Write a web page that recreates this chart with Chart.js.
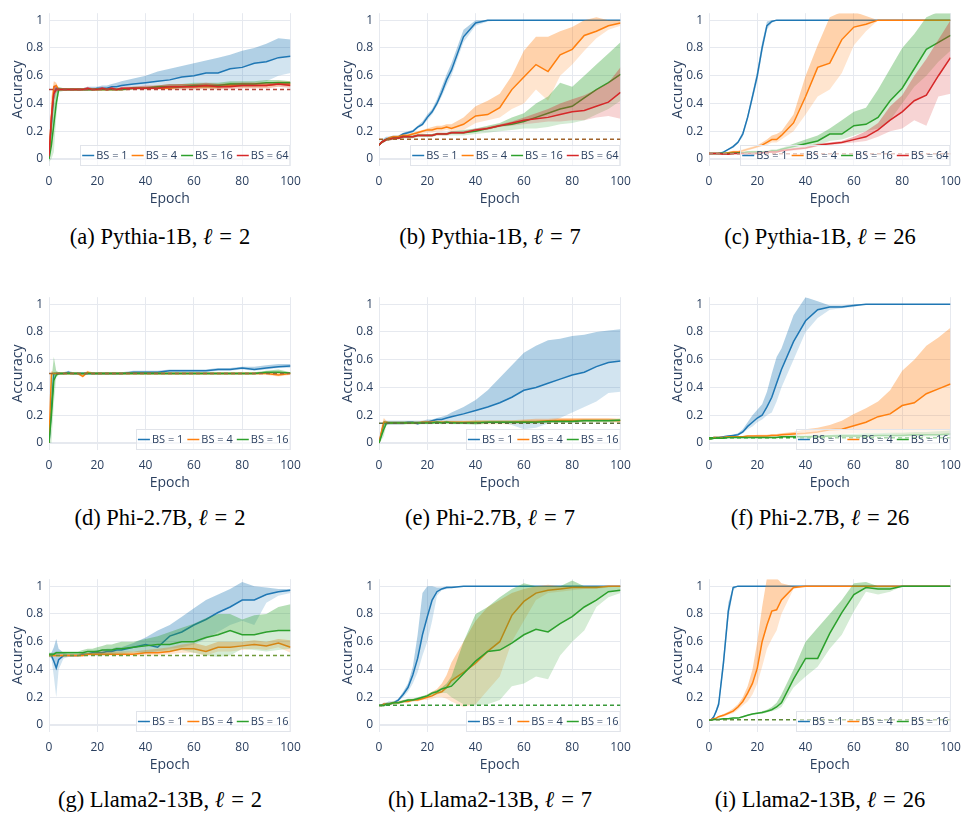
<!DOCTYPE html>
<html>
<head>
<meta charset="utf-8">
<script src="https://cdn.jsdelivr.net/npm/chart.js@4.4.1/dist/chart.umd.min.js"></script>
<style>
  body { margin: 0; background: #fff; width: 963px; height: 814px; position: relative; overflow: hidden; }
  .panel { position: absolute; }
  .caption { position: absolute; width: 320px; text-align: center; font-family: "Liberation Serif", "Times New Roman", serif; font-size: 22.5px; line-height: 26px; color: #000; white-space: nowrap; }
  .caption .eq { margin: 0 7px; }
</style>
</head>
<body>
<script>
// epochs shared by every series
const epochs = [0,1,2,3,4,6,8,10,12,14,16,18,20,22,24,26,28,30,35,40,45,50,55,60,65,70,75,80,85,90,95,100];
const xTicks = [0,20,40,60,80,100];
const yTicks = [0,0.2,0.4,0.6,0.8,1];
const bsLabels = ['BS = 1','BS = 4','BS = 16','BS = 64'];
const seriesColors = ['#1f77b4','#ff7f0e','#2ca02c','#d62728'];
const captionNames = ['(a) Pythia-1B','(b) Pythia-1B','(c) Pythia-1B','(d) Phi-2.7B','(e) Phi-2.7B','(f) Phi-2.7B',
  '(g) Llama2-13B','(h) Llama2-13B','(i) Llama2-13B'];
const captionEll = [2,7,26,2,7,26,2,7,26];
const chance = [0.5,0.143,0.038,0.5,0.143,0.038,0.5,0.143,0.038];
const chanceColors = ['#b5443a','#a0622a','#c07a6a','#9a6a3a','#5f6f3f','#2ca02c','#6f9a3a','#3a9a3a','#5f8a3a'];

// (a) Pythia-1B, l = 2
const a_bs1    = [0.02,0.25,0.48,0.51,0.50,0.50,0.50,0.50,0.50,0.50,0.50,0.50,0.51,0.51,0.51,0.52,0.52,0.53,0.54,0.55,0.56,0.57,0.59,0.60,0.62,0.62,0.65,0.66,0.69,0.70,0.73,0.74];
const a_bs1_hi = [0.03,0.32,0.53,0.53,0.51,0.51,0.51,0.51,0.51,0.51,0.52,0.52,0.52,0.53,0.53,0.54,0.55,0.56,0.58,0.60,0.63,0.65,0.67,0.69,0.71,0.73,0.75,0.78,0.80,0.83,0.87,0.86];
const a_bs1_lo = [0.00,0.15,0.42,0.48,0.49,0.49,0.49,0.49,0.49,0.49,0.49,0.49,0.50,0.50,0.50,0.50,0.50,0.50,0.50,0.51,0.51,0.51,0.51,0.52,0.52,0.53,0.53,0.54,0.55,0.56,0.60,0.62];
const a_bs4    = [0.02,0.30,0.52,0.53,0.50,0.50,0.50,0.50,0.50,0.50,0.50,0.50,0.50,0.50,0.50,0.50,0.50,0.50,0.51,0.51,0.51,0.51,0.52,0.52,0.52,0.52,0.53,0.53,0.53,0.53,0.54,0.54];
const a_bs4_hi = [0.03,0.45,0.56,0.55,0.51,0.51,0.51,0.51,0.51,0.51,0.51,0.51,0.51,0.51,0.51,0.51,0.51,0.51,0.52,0.52,0.53,0.53,0.54,0.54,0.54,0.54,0.55,0.55,0.55,0.55,0.56,0.56];
const a_bs4_lo = [0.00,0.15,0.45,0.50,0.49,0.49,0.49,0.49,0.49,0.49,0.49,0.49,0.49,0.49,0.49,0.49,0.49,0.49,0.50,0.50,0.50,0.50,0.50,0.50,0.50,0.50,0.51,0.51,0.51,0.51,0.52,0.52];
const a_bs16    = [0.00,0.10,0.25,0.40,0.50,0.50,0.50,0.50,0.50,0.50,0.50,0.50,0.50,0.50,0.50,0.50,0.50,0.50,0.51,0.51,0.52,0.52,0.52,0.53,0.53,0.53,0.54,0.54,0.54,0.55,0.55,0.55];
const a_bs16_hi = [0.02,0.30,0.45,0.50,0.52,0.51,0.51,0.51,0.51,0.51,0.51,0.51,0.51,0.51,0.51,0.51,0.51,0.51,0.52,0.52,0.53,0.54,0.54,0.55,0.55,0.55,0.56,0.56,0.56,0.57,0.57,0.56];
const a_bs16_lo = [-0.02,0.00,0.05,0.30,0.48,0.49,0.49,0.49,0.49,0.49,0.49,0.49,0.49,0.49,0.49,0.49,0.49,0.49,0.50,0.50,0.51,0.51,0.51,0.51,0.51,0.51,0.52,0.52,0.52,0.53,0.53,0.53];
const a_bs64    = [0.02,0.30,0.47,0.50,0.50,0.50,0.50,0.50,0.50,0.50,0.51,0.50,0.50,0.51,0.50,0.51,0.50,0.51,0.51,0.51,0.51,0.52,0.52,0.52,0.53,0.52,0.52,0.53,0.53,0.53,0.54,0.53];
const a_bs64_hi = [0.03,0.40,0.53,0.52,0.51,0.51,0.51,0.51,0.51,0.51,0.52,0.51,0.51,0.52,0.51,0.52,0.51,0.52,0.52,0.53,0.53,0.54,0.54,0.54,0.55,0.54,0.54,0.55,0.55,0.55,0.55,0.55];
const a_bs64_lo = [0.00,0.20,0.42,0.48,0.49,0.49,0.49,0.49,0.49,0.49,0.50,0.49,0.49,0.50,0.49,0.50,0.49,0.50,0.50,0.50,0.50,0.50,0.50,0.50,0.51,0.50,0.50,0.51,0.51,0.51,0.52,0.51];

// (b) Pythia-1B, l = 7
const b_bs1    = [0.10,0.12,0.13,0.14,0.15,0.16,0.16,0.18,0.19,0.20,0.23,0.25,0.30,0.34,0.40,0.48,0.57,0.64,0.88,0.98,1.00,1.00,1.00,1.00,1.00,1.00,1.00,1.00,1.00,1.00,1.00,1.00];
const b_bs1_hi = [0.10,0.13,0.15,0.16,0.16,0.17,0.17,0.19,0.20,0.21,0.24,0.27,0.32,0.36,0.43,0.52,0.61,0.69,0.93,1.00,1.00,1.00,1.00,1.00,1.00,1.00,1.00,1.00,1.00,1.00,1.00,1.00];
const b_bs1_lo = [0.10,0.11,0.12,0.13,0.14,0.15,0.15,0.17,0.18,0.19,0.22,0.24,0.28,0.32,0.38,0.45,0.53,0.60,0.84,0.96,0.99,1.00,1.00,1.00,1.00,1.00,1.00,1.00,1.00,1.00,1.00,1.00];
const b_bs4    = [0.10,0.12,0.13,0.14,0.15,0.16,0.16,0.17,0.17,0.18,0.19,0.20,0.21,0.21,0.22,0.22,0.23,0.22,0.25,0.31,0.32,0.37,0.50,0.59,0.68,0.63,0.75,0.79,0.89,0.92,0.96,0.98];
const b_bs4_hi = [0.10,0.13,0.14,0.15,0.16,0.17,0.17,0.18,0.18,0.19,0.20,0.21,0.22,0.23,0.24,0.24,0.25,0.25,0.30,0.38,0.42,0.47,0.60,0.78,0.88,0.88,0.92,0.95,1.00,1.02,1.00,1.00];
const b_bs4_lo = [0.10,0.11,0.12,0.13,0.14,0.15,0.15,0.16,0.16,0.17,0.18,0.18,0.19,0.19,0.20,0.20,0.21,0.20,0.21,0.26,0.28,0.30,0.36,0.40,0.50,0.42,0.60,0.68,0.78,0.87,0.93,0.96];
const b_bs16    = [0.10,0.12,0.13,0.14,0.14,0.15,0.15,0.16,0.16,0.16,0.17,0.17,0.17,0.17,0.18,0.18,0.18,0.19,0.19,0.20,0.22,0.24,0.25,0.27,0.30,0.33,0.36,0.38,0.44,0.50,0.55,0.61];
const b_bs16_hi = [0.10,0.13,0.14,0.15,0.15,0.16,0.16,0.17,0.17,0.17,0.18,0.18,0.18,0.18,0.19,0.19,0.19,0.20,0.21,0.22,0.24,0.26,0.30,0.33,0.40,0.45,0.55,0.52,0.60,0.68,0.76,0.84];
const b_bs16_lo = [0.10,0.11,0.12,0.13,0.13,0.14,0.14,0.15,0.15,0.15,0.16,0.16,0.16,0.16,0.17,0.17,0.17,0.17,0.17,0.18,0.19,0.20,0.21,0.22,0.22,0.23,0.25,0.26,0.28,0.32,0.36,0.42];
const b_bs64    = [0.10,0.12,0.13,0.14,0.14,0.15,0.15,0.16,0.16,0.16,0.17,0.17,0.17,0.17,0.18,0.18,0.18,0.19,0.19,0.21,0.22,0.24,0.26,0.28,0.29,0.30,0.32,0.34,0.35,0.38,0.41,0.48];
const b_bs64_hi = [0.10,0.13,0.14,0.15,0.15,0.16,0.16,0.17,0.17,0.17,0.18,0.18,0.18,0.18,0.19,0.19,0.19,0.20,0.20,0.22,0.23,0.25,0.27,0.30,0.33,0.36,0.40,0.43,0.46,0.50,0.55,0.66];
const b_bs64_lo = [0.10,0.11,0.12,0.13,0.13,0.14,0.14,0.15,0.15,0.15,0.16,0.16,0.16,0.16,0.17,0.17,0.17,0.18,0.18,0.20,0.21,0.23,0.24,0.25,0.26,0.27,0.27,0.28,0.28,0.30,0.31,0.29];

// (c) Pythia-1B, l = 26
const c_bs1    = [0.04,0.04,0.04,0.04,0.04,0.05,0.07,0.09,0.12,0.18,0.30,0.45,0.60,0.80,0.96,0.99,1.00,1.00,1.00,1.00,1.00,1.00,1.00,1.00,1.00,1.00,1.00,1.00,1.00,1.00,1.00,1.00];
const c_bs1_hi = [0.04,0.04,0.04,0.04,0.045,0.055,0.075,0.10,0.13,0.20,0.32,0.48,0.64,0.84,0.99,1.00,1.00,1.00,1.00,1.00,1.00,1.00,1.00,1.00,1.00,1.00,1.00,1.00,1.00,1.00,1.00,1.00];
const c_bs1_lo = [0.04,0.04,0.04,0.04,0.035,0.045,0.065,0.08,0.11,0.16,0.28,0.42,0.56,0.76,0.93,0.98,1.00,1.00,1.00,1.00,1.00,1.00,1.00,1.00,1.00,1.00,1.00,1.00,1.00,1.00,1.00,1.00];
const c_bs4    = [0.04,0.04,0.04,0.04,0.04,0.04,0.045,0.05,0.05,0.06,0.07,0.08,0.09,0.10,0.12,0.14,0.14,0.17,0.26,0.45,0.66,0.69,0.86,0.95,0.97,1.00,1.00,1.00,1.00,1.00,1.00,1.00];
const c_bs4_hi = [0.04,0.04,0.04,0.04,0.045,0.045,0.05,0.06,0.06,0.07,0.08,0.09,0.10,0.12,0.14,0.17,0.18,0.20,0.32,0.60,0.82,1.02,1.06,1.06,1.03,1.00,1.00,1.00,1.00,1.00,1.00,1.00];
const c_bs4_lo = [0.04,0.04,0.04,0.04,0.035,0.035,0.04,0.04,0.04,0.05,0.06,0.07,0.08,0.09,0.10,0.12,0.12,0.14,0.20,0.32,0.45,0.50,0.62,0.82,0.92,1.00,1.00,1.00,1.00,1.00,1.00,1.00];
const c_bs16    = [0.04,0.04,0.04,0.04,0.04,0.04,0.04,0.04,0.045,0.045,0.05,0.05,0.05,0.05,0.05,0.06,0.06,0.07,0.09,0.11,0.13,0.18,0.18,0.24,0.25,0.30,0.42,0.51,0.65,0.79,0.84,0.89];
const c_bs16_hi = [0.04,0.04,0.04,0.04,0.045,0.045,0.045,0.05,0.05,0.05,0.055,0.06,0.06,0.06,0.06,0.07,0.07,0.08,0.11,0.14,0.17,0.22,0.28,0.34,0.37,0.50,0.65,0.80,0.90,1.02,1.06,1.06];
const c_bs16_lo = [0.04,0.04,0.04,0.04,0.035,0.035,0.035,0.035,0.04,0.04,0.045,0.045,0.045,0.045,0.045,0.05,0.05,0.06,0.07,0.09,0.10,0.13,0.14,0.17,0.20,0.22,0.28,0.40,0.52,0.60,0.70,0.78];
const c_bs64    = [0.04,0.04,0.04,0.04,0.04,0.035,0.035,0.04,0.04,0.04,0.04,0.04,0.04,0.045,0.05,0.05,0.05,0.06,0.07,0.08,0.10,0.11,0.12,0.14,0.16,0.21,0.28,0.34,0.42,0.46,0.60,0.73];
const c_bs64_hi = [0.04,0.04,0.04,0.04,0.045,0.04,0.04,0.045,0.045,0.045,0.045,0.045,0.05,0.05,0.055,0.06,0.06,0.07,0.08,0.09,0.11,0.12,0.13,0.16,0.20,0.26,0.38,0.46,0.60,0.72,0.86,1.00];
const c_bs64_lo = [0.04,0.04,0.04,0.04,0.035,0.03,0.03,0.035,0.035,0.035,0.035,0.035,0.035,0.04,0.045,0.045,0.045,0.05,0.06,0.07,0.09,0.10,0.11,0.12,0.13,0.16,0.20,0.22,0.28,0.24,0.45,0.47];

// (d) Phi-2.7B, l = 2
const d_bs1    = [0.00,0.25,0.50,0.50,0.50,0.50,0.51,0.50,0.50,0.50,0.50,0.50,0.50,0.50,0.50,0.50,0.50,0.50,0.51,0.51,0.51,0.52,0.52,0.52,0.52,0.53,0.53,0.54,0.53,0.54,0.55,0.555];
const d_bs1_hi = [0.00,0.30,0.51,0.51,0.51,0.51,0.52,0.51,0.51,0.51,0.51,0.51,0.51,0.51,0.51,0.51,0.51,0.51,0.52,0.52,0.52,0.53,0.53,0.53,0.53,0.54,0.54,0.55,0.55,0.56,0.57,0.57];
const d_bs1_lo = [0.00,0.20,0.49,0.49,0.49,0.49,0.50,0.49,0.49,0.49,0.49,0.49,0.49,0.49,0.49,0.49,0.49,0.49,0.50,0.50,0.50,0.51,0.51,0.51,0.51,0.52,0.52,0.53,0.52,0.53,0.54,0.54];
const d_bs4    = [0.00,0.50,0.50,0.50,0.50,0.50,0.50,0.50,0.50,0.48,0.51,0.50,0.50,0.50,0.50,0.50,0.50,0.50,0.50,0.50,0.50,0.50,0.50,0.50,0.50,0.50,0.50,0.50,0.50,0.50,0.49,0.50];
const d_bs4_hi = [0.00,0.52,0.51,0.51,0.51,0.51,0.51,0.51,0.51,0.50,0.52,0.51,0.51,0.51,0.51,0.51,0.51,0.51,0.51,0.51,0.51,0.51,0.51,0.51,0.51,0.51,0.51,0.51,0.51,0.51,0.51,0.51];
const d_bs4_lo = [0.00,0.48,0.49,0.49,0.49,0.49,0.49,0.49,0.49,0.47,0.50,0.49,0.49,0.49,0.49,0.49,0.49,0.49,0.49,0.49,0.49,0.49,0.49,0.49,0.49,0.49,0.49,0.49,0.49,0.49,0.48,0.49];
const d_bs16    = [0.00,0.20,0.45,0.49,0.50,0.50,0.50,0.50,0.50,0.50,0.50,0.50,0.50,0.50,0.50,0.50,0.50,0.50,0.50,0.50,0.50,0.50,0.50,0.50,0.50,0.50,0.50,0.50,0.50,0.51,0.51,0.505];
const d_bs16_hi = [0.00,0.45,0.62,0.52,0.51,0.51,0.51,0.51,0.51,0.51,0.51,0.51,0.51,0.51,0.51,0.51,0.51,0.51,0.51,0.51,0.51,0.51,0.51,0.51,0.51,0.51,0.51,0.51,0.51,0.52,0.53,0.51];
const d_bs16_lo = [0.00,0.00,0.28,0.47,0.49,0.49,0.49,0.49,0.49,0.49,0.49,0.49,0.49,0.49,0.49,0.49,0.49,0.49,0.49,0.49,0.49,0.49,0.49,0.49,0.49,0.49,0.49,0.49,0.49,0.50,0.50,0.50];

// (e) Phi-2.7B, l = 7
const e_bs1    = [0.00,0.07,0.14,0.145,0.145,0.145,0.145,0.145,0.15,0.15,0.14,0.15,0.15,0.16,0.17,0.17,0.18,0.19,0.21,0.235,0.26,0.29,0.33,0.38,0.40,0.43,0.46,0.49,0.51,0.55,0.58,0.59];
const e_bs1_hi = [0.00,0.10,0.16,0.16,0.16,0.16,0.16,0.16,0.16,0.16,0.16,0.16,0.17,0.17,0.18,0.19,0.20,0.22,0.26,0.31,0.38,0.47,0.56,0.65,0.70,0.74,0.75,0.77,0.78,0.80,0.81,0.82];
const e_bs1_lo = [0.00,0.04,0.12,0.13,0.13,0.13,0.13,0.13,0.14,0.14,0.13,0.14,0.14,0.15,0.15,0.15,0.15,0.15,0.16,0.16,0.16,0.15,0.13,0.10,0.11,0.14,0.18,0.22,0.26,0.30,0.36,0.37];
const e_bs4    = [0.00,0.08,0.15,0.15,0.145,0.145,0.145,0.145,0.145,0.145,0.145,0.15,0.15,0.15,0.15,0.15,0.15,0.15,0.15,0.15,0.15,0.15,0.15,0.155,0.155,0.16,0.165,0.165,0.165,0.165,0.165,0.16];
const e_bs4_hi = [0.00,0.12,0.18,0.16,0.155,0.155,0.155,0.155,0.155,0.155,0.155,0.16,0.16,0.16,0.16,0.16,0.16,0.16,0.16,0.165,0.165,0.165,0.165,0.17,0.175,0.175,0.18,0.18,0.18,0.18,0.18,0.175];
const e_bs4_lo = [0.00,0.04,0.13,0.14,0.135,0.135,0.135,0.135,0.135,0.135,0.135,0.14,0.14,0.14,0.14,0.14,0.14,0.14,0.14,0.135,0.135,0.135,0.135,0.14,0.14,0.145,0.15,0.15,0.15,0.15,0.15,0.145];
const e_bs16    = [0.00,0.05,0.10,0.14,0.145,0.145,0.145,0.145,0.145,0.145,0.145,0.145,0.145,0.145,0.15,0.145,0.15,0.145,0.145,0.145,0.15,0.15,0.15,0.15,0.15,0.155,0.155,0.155,0.16,0.16,0.16,0.165];
const e_bs16_hi = [0.00,0.08,0.16,0.155,0.155,0.155,0.155,0.155,0.155,0.155,0.155,0.155,0.155,0.155,0.16,0.155,0.16,0.155,0.155,0.16,0.16,0.16,0.16,0.16,0.16,0.165,0.165,0.165,0.17,0.17,0.17,0.175];
const e_bs16_lo = [0.00,0.02,0.05,0.125,0.135,0.135,0.135,0.135,0.135,0.135,0.135,0.135,0.135,0.135,0.14,0.135,0.14,0.135,0.135,0.13,0.14,0.14,0.14,0.14,0.14,0.145,0.145,0.145,0.15,0.15,0.15,0.155];

// (f) Phi-2.7B, l = 26
const f_bs1    = [0.03,0.035,0.04,0.04,0.04,0.045,0.05,0.055,0.06,0.08,0.12,0.15,0.18,0.20,0.26,0.33,0.43,0.53,0.73,0.88,0.96,0.98,0.98,0.99,1.00,1.00,1.00,1.00,1.00,1.00,1.00,1.00];
const f_bs1_hi = [0.03,0.04,0.045,0.045,0.045,0.05,0.055,0.06,0.07,0.10,0.15,0.20,0.24,0.28,0.37,0.50,0.62,0.68,0.92,1.05,1.02,0.99,0.99,1.00,1.00,1.00,1.00,1.00,1.00,1.00,1.00,1.00];
const f_bs1_lo = [0.03,0.03,0.035,0.035,0.035,0.04,0.045,0.05,0.055,0.07,0.10,0.12,0.15,0.17,0.20,0.22,0.30,0.40,0.60,0.80,0.90,0.96,0.97,0.98,1.00,1.00,1.00,1.00,1.00,1.00,1.00,1.00];
const f_bs4    = [0.03,0.035,0.04,0.04,0.04,0.04,0.045,0.045,0.045,0.045,0.05,0.05,0.05,0.05,0.05,0.055,0.055,0.06,0.065,0.07,0.08,0.095,0.10,0.125,0.15,0.19,0.21,0.27,0.29,0.355,0.39,0.425];
const f_bs4_hi = [0.03,0.04,0.045,0.045,0.045,0.045,0.05,0.05,0.05,0.05,0.055,0.055,0.06,0.06,0.06,0.065,0.065,0.07,0.08,0.10,0.11,0.13,0.16,0.21,0.25,0.30,0.38,0.52,0.60,0.70,0.76,0.83];
const f_bs4_lo = [0.03,0.03,0.035,0.035,0.035,0.035,0.04,0.04,0.04,0.04,0.045,0.045,0.045,0.045,0.045,0.05,0.05,0.05,0.055,0.06,0.06,0.065,0.065,0.07,0.07,0.07,0.07,0.06,0.06,0.06,0.06,0.06];
const f_bs16    = [0.03,0.03,0.035,0.035,0.035,0.035,0.04,0.04,0.04,0.04,0.04,0.04,0.04,0.04,0.04,0.04,0.04,0.045,0.045,0.045,0.045,0.05,0.05,0.05,0.05,0.055,0.055,0.055,0.06,0.06,0.06,0.065];
const f_bs16_hi = [0.03,0.035,0.04,0.04,0.04,0.04,0.045,0.045,0.045,0.045,0.045,0.045,0.045,0.045,0.045,0.045,0.045,0.05,0.055,0.055,0.06,0.06,0.065,0.065,0.07,0.07,0.075,0.075,0.08,0.08,0.085,0.09];
const f_bs16_lo = [0.03,0.025,0.03,0.03,0.03,0.03,0.035,0.035,0.035,0.035,0.035,0.035,0.035,0.035,0.035,0.035,0.035,0.04,0.04,0.04,0.04,0.04,0.04,0.04,0.04,0.045,0.045,0.045,0.045,0.045,0.045,0.05];

// (g) Llama2-13B, l = 2
const g_bs1    = [0.50,0.50,0.46,0.41,0.47,0.50,0.50,0.50,0.50,0.51,0.51,0.52,0.52,0.52,0.53,0.53,0.54,0.54,0.56,0.58,0.56,0.64,0.67,0.72,0.76,0.81,0.85,0.90,0.90,0.94,0.96,0.97];
const g_bs1_hi = [0.51,0.52,0.56,0.62,0.55,0.52,0.51,0.51,0.51,0.52,0.52,0.53,0.54,0.54,0.55,0.55,0.56,0.56,0.59,0.63,0.68,0.72,0.78,0.84,0.90,0.94,0.98,1.03,1.00,0.99,0.98,0.98];
const g_bs1_lo = [0.49,0.48,0.35,0.20,0.40,0.48,0.49,0.49,0.49,0.50,0.50,0.50,0.50,0.51,0.51,0.51,0.52,0.52,0.53,0.52,0.53,0.55,0.56,0.58,0.62,0.67,0.72,0.75,0.72,0.88,0.93,0.95];
const g_bs4    = [0.50,0.50,0.50,0.50,0.50,0.50,0.50,0.50,0.50,0.50,0.51,0.51,0.51,0.51,0.51,0.51,0.51,0.51,0.51,0.52,0.52,0.53,0.55,0.55,0.53,0.56,0.56,0.57,0.58,0.57,0.59,0.56];
const g_bs4_hi = [0.51,0.51,0.51,0.51,0.51,0.51,0.51,0.51,0.51,0.52,0.52,0.52,0.53,0.53,0.53,0.53,0.53,0.53,0.53,0.54,0.55,0.56,0.58,0.59,0.57,0.60,0.60,0.60,0.61,0.60,0.62,0.61];
const g_bs4_lo = [0.49,0.49,0.49,0.49,0.49,0.49,0.49,0.49,0.49,0.49,0.50,0.50,0.50,0.50,0.50,0.50,0.50,0.50,0.50,0.50,0.50,0.51,0.52,0.52,0.50,0.53,0.53,0.54,0.55,0.54,0.56,0.52];
const g_bs16    = [0.51,0.51,0.51,0.52,0.52,0.52,0.52,0.52,0.52,0.52,0.53,0.53,0.53,0.54,0.54,0.54,0.55,0.55,0.56,0.57,0.58,0.58,0.60,0.60,0.63,0.65,0.68,0.65,0.65,0.67,0.68,0.68];
const g_bs16_hi = [0.52,0.52,0.52,0.53,0.53,0.53,0.53,0.53,0.53,0.54,0.55,0.55,0.56,0.57,0.58,0.58,0.59,0.60,0.60,0.62,0.64,0.67,0.70,0.73,0.77,0.80,0.80,0.76,0.79,0.80,0.85,0.87];
const g_bs16_lo = [0.50,0.50,0.50,0.51,0.51,0.51,0.51,0.51,0.51,0.51,0.51,0.51,0.50,0.50,0.50,0.51,0.51,0.51,0.52,0.52,0.53,0.53,0.54,0.52,0.50,0.49,0.50,0.55,0.54,0.53,0.54,0.55];

// (h) Llama2-13B, l = 7
const h_bs1    = [0.14,0.14,0.15,0.15,0.15,0.16,0.18,0.22,0.27,0.36,0.48,0.65,0.78,0.90,0.96,0.98,0.99,0.99,1.00,1.00,1.00,1.00,1.00,1.00,1.00,1.00,1.00,1.00,1.00,1.00,1.00,1.00];
const h_bs1_hi = [0.14,0.15,0.16,0.16,0.17,0.17,0.19,0.24,0.30,0.42,0.65,0.95,1.00,1.00,0.99,0.99,1.00,1.00,1.00,1.00,1.00,1.00,1.00,1.00,1.00,1.00,1.00,1.00,1.00,1.00,1.00,1.00];
const h_bs1_lo = [0.14,0.14,0.14,0.14,0.14,0.15,0.17,0.20,0.24,0.30,0.38,0.50,0.60,0.75,0.93,0.97,0.98,0.99,1.00,1.00,1.00,1.00,1.00,1.00,1.00,1.00,1.00,1.00,1.00,1.00,1.00,1.00];
const h_bs4    = [0.14,0.14,0.15,0.15,0.15,0.16,0.16,0.17,0.17,0.18,0.18,0.19,0.20,0.21,0.23,0.24,0.27,0.32,0.38,0.445,0.53,0.60,0.79,0.89,0.95,0.97,0.98,0.99,0.99,0.99,1.00,1.00];
const h_bs4_hi = [0.14,0.15,0.16,0.16,0.16,0.17,0.17,0.18,0.18,0.19,0.19,0.20,0.22,0.24,0.26,0.30,0.36,0.45,0.60,0.75,0.85,0.90,0.95,0.98,1.00,1.01,1.00,1.00,1.00,1.00,1.00,1.00];
const h_bs4_lo = [0.14,0.13,0.14,0.14,0.14,0.15,0.15,0.16,0.16,0.17,0.17,0.18,0.18,0.19,0.20,0.20,0.19,0.17,0.13,0.15,0.25,0.35,0.60,0.75,0.90,0.95,0.96,0.97,0.98,0.98,0.99,1.00];
const h_bs16    = [0.14,0.14,0.14,0.15,0.15,0.16,0.16,0.17,0.18,0.18,0.19,0.20,0.21,0.23,0.24,0.26,0.27,0.28,0.37,0.46,0.53,0.54,0.59,0.65,0.69,0.67,0.73,0.78,0.85,0.90,0.96,0.97];
const h_bs16_hi = [0.14,0.15,0.15,0.16,0.16,0.17,0.17,0.18,0.19,0.19,0.20,0.21,0.22,0.24,0.25,0.27,0.30,0.35,0.60,0.80,0.85,0.92,0.98,1.02,1.00,1.00,1.00,1.04,1.00,1.00,1.00,1.00];
const h_bs16_lo = [0.14,0.13,0.13,0.14,0.14,0.15,0.15,0.16,0.17,0.17,0.18,0.19,0.20,0.21,0.22,0.23,0.23,0.20,0.15,0.14,0.15,0.18,0.28,0.30,0.35,0.33,0.50,0.60,0.68,0.85,0.92,0.95];

// (i) Llama2-13B, l = 26
const i_bs1    = [0.035,0.04,0.06,0.10,0.15,0.45,0.82,0.99,1.00,1.00,1.00,1.00,1.00,1.00,1.00,1.00,1.00,1.00,1.00,1.00,1.00,1.00,1.00,1.00,1.00,1.00,1.00,1.00,1.00,1.00,1.00,1.00];
const i_bs1_hi = [0.035,0.045,0.07,0.12,0.18,0.50,0.88,1.00,1.00,1.00,1.00,1.00,1.00,1.00,1.00,1.00,1.00,1.00,1.00,1.00,1.00,1.00,1.00,1.00,1.00,1.00,1.00,1.00,1.00,1.00,1.00,1.00];
const i_bs1_lo = [0.035,0.04,0.05,0.09,0.13,0.40,0.76,0.97,1.00,1.00,1.00,1.00,1.00,1.00,1.00,1.00,1.00,1.00,1.00,1.00,1.00,1.00,1.00,1.00,1.00,1.00,1.00,1.00,1.00,1.00,1.00,1.00];
const i_bs4    = [0.035,0.04,0.045,0.05,0.06,0.07,0.085,0.10,0.13,0.17,0.23,0.30,0.41,0.60,0.72,0.82,0.83,0.90,0.99,1.00,1.00,1.00,1.00,1.00,1.00,1.00,1.00,1.00,1.00,1.00,1.00,1.00];
const i_bs4_hi = [0.035,0.045,0.05,0.055,0.065,0.08,0.095,0.12,0.15,0.20,0.28,0.40,0.60,0.85,1.06,1.06,1.06,1.02,1.00,1.00,1.00,1.00,1.00,1.00,1.00,1.00,1.00,1.00,1.00,1.00,1.00,1.00];
const i_bs4_lo = [0.035,0.035,0.04,0.045,0.055,0.06,0.075,0.085,0.11,0.14,0.17,0.22,0.30,0.42,0.55,0.62,0.68,0.80,0.98,1.00,1.00,1.00,1.00,1.00,1.00,1.00,1.00,1.00,1.00,1.00,1.00,1.00];
const i_bs16    = [0.035,0.035,0.04,0.04,0.04,0.045,0.045,0.05,0.05,0.06,0.07,0.08,0.085,0.09,0.10,0.11,0.13,0.16,0.33,0.48,0.48,0.66,0.81,0.94,0.99,0.98,0.98,1.00,1.00,1.00,1.00,1.00];
const i_bs16_hi = [0.035,0.04,0.045,0.045,0.045,0.05,0.05,0.055,0.055,0.065,0.075,0.085,0.09,0.10,0.11,0.13,0.16,0.22,0.40,0.60,0.70,0.80,0.90,1.02,1.03,1.00,1.00,1.00,1.00,1.00,1.00,1.00];
const i_bs16_lo = [0.035,0.03,0.035,0.035,0.035,0.04,0.04,0.045,0.045,0.055,0.065,0.075,0.08,0.08,0.09,0.10,0.11,0.13,0.27,0.35,0.42,0.55,0.65,0.82,0.96,0.94,0.96,1.00,1.00,1.00,1.00,1.00];

// each series: [mean, lower, upper]
const panels = [
  [[a_bs1,a_bs1_lo,a_bs1_hi],[a_bs4,a_bs4_lo,a_bs4_hi],[a_bs16,a_bs16_lo,a_bs16_hi],[a_bs64,a_bs64_lo,a_bs64_hi]],
  [[b_bs1,b_bs1_lo,b_bs1_hi],[b_bs4,b_bs4_lo,b_bs4_hi],[b_bs16,b_bs16_lo,b_bs16_hi],[b_bs64,b_bs64_lo,b_bs64_hi]],
  [[c_bs1,c_bs1_lo,c_bs1_hi],[c_bs4,c_bs4_lo,c_bs4_hi],[c_bs16,c_bs16_lo,c_bs16_hi],[c_bs64,c_bs64_lo,c_bs64_hi]],
  [[d_bs1,d_bs1_lo,d_bs1_hi],[d_bs4,d_bs4_lo,d_bs4_hi],[d_bs16,d_bs16_lo,d_bs16_hi]],
  [[e_bs1,e_bs1_lo,e_bs1_hi],[e_bs4,e_bs4_lo,e_bs4_hi],[e_bs16,e_bs16_lo,e_bs16_hi]],
  [[f_bs1,f_bs1_lo,f_bs1_hi],[f_bs4,f_bs4_lo,f_bs4_hi],[f_bs16,f_bs16_lo,f_bs16_hi]],
  [[g_bs1,g_bs1_lo,g_bs1_hi],[g_bs4,g_bs4_lo,g_bs4_hi],[g_bs16,g_bs16_lo,g_bs16_hi]],
  [[h_bs1,h_bs1_lo,h_bs1_hi],[h_bs4,h_bs4_lo,h_bs4_hi],[h_bs16,h_bs16_lo,h_bs16_hi]],
  [[i_bs1,i_bs1_lo,i_bs1_hi],[i_bs4,i_bs4_lo,i_bs4_hi],[i_bs16,i_bs16_lo,i_bs16_hi]]
];

const rowTops = [0, 283.5, 566];
const captionTops = [224, 505, 787];
const textColor = '#2a3f5f';
const gridColor = '#e6e9ef';

Chart.defaults.font.family = '"Open Sans", verdana, arial, sans-serif';
Chart.defaults.color = textColor;

function toPoints(values) {
  return epochs.map((x, i) => ({ x: x, y: values[i] }));
}

function fade(hex, a) {
  const n = parseInt(hex.slice(1), 16);
  return 'rgba(' + (n >> 16) + ',' + ((n >> 8) & 255) + ',' + (n & 255) + ',' + a + ')';
}

// legend box sitting inside the plot, bottom right, like plotly's
const insideLegend = {
  id: 'insideLegend',
  afterDraw(chart) {
    const ctx = chart.ctx, area = chart.chartArea;
    const items = chart.data.datasets.filter(d => d.inLegend);
    ctx.save();
    ctx.font = '11px "Open Sans"';
    const sample = 12, gap = 2, between = 4, pad = 2;
    let w = pad * 2;
    items.forEach(d => { w += sample + gap + ctx.measureText(d.label).width + between; });
    w -= between;
    const h = 21;
    const x0 = area.right - w, y0 = area.bottom - h;
    ctx.fillStyle = 'rgba(255,255,255,0.6)';
    ctx.fillRect(x0, y0, w, h);
    ctx.strokeStyle = '#e1e4ea';
    ctx.lineWidth = 1;
    ctx.strokeRect(Math.round(x0) + 0.5, Math.round(y0) + 0.5, w - 1, h - 1);
    let x = x0 + pad;
    const y = y0 + h / 2;
    ctx.textBaseline = 'middle';
    items.forEach(d => {
      ctx.strokeStyle = d.borderColor;
      ctx.lineWidth = 1.5;
      ctx.beginPath();
      ctx.moveTo(x, y);
      ctx.lineTo(x + sample, y);
      ctx.stroke();
      x += sample + gap;
      ctx.fillStyle = textColor;
      ctx.fillText(d.label, x, y + 0.5);
      x += ctx.measureText(d.label).width + between;
    });
    ctx.restore();
  }
};

function buildDatasets(series, p) {
  const ds = [];
  series.forEach((s, i) => {
    const color = seriesColors[i];
    const order = series.length - i;
    ds.push({ data: toPoints(s[2]), borderColor: 'rgba(0,0,0,0)', borderWidth: 0, pointRadius: 0,
      fill: '+1', backgroundColor: fade(color, 0.35), order: order });
    ds.push({ label: bsLabels[i], inLegend: true, data: toPoints(s[0]), borderColor: color, borderWidth: 1.5,
      pointRadius: 0, fill: false, order: order - 0.5 });
    ds.push({ data: toPoints(s[1]), borderColor: 'rgba(0,0,0,0)', borderWidth: 0, pointRadius: 0,
      fill: '-1', backgroundColor: fade(color, 0.2), order: order });
  });
  ds.push({ data: [{ x: 0, y: chance[p] }, { x: 100, y: chance[p] }], borderColor: chanceColors[p],
    borderDash: [4, 3], borderWidth: 1.5, pointRadius: 0, fill: false, order: -1 });
  return ds;
}

panels.forEach((series, p) => {
  const col = p % 3, row = Math.floor(p / 3);
  const div = document.createElement('div');
  div.className = 'panel';
  div.style.left = (col * 330) + 'px';
  div.style.top = rowTops[row] + 'px';
  const canvas = document.createElement('canvas');
  canvas.width = 310;
  canvas.height = 210;
  div.appendChild(canvas);
  document.body.appendChild(div);

  const cap = document.createElement('div');
  cap.className = 'caption';
  cap.style.left = (col * 330) + 'px';
  cap.style.top = captionTops[row] + 'px';
  cap.innerHTML = captionNames[p] + ', <i>ℓ</i><span class="eq">=</span>' + captionEll[p];
  document.body.appendChild(cap);

  new Chart(canvas, {
    type: 'line',
    data: { datasets: buildDatasets(series, p) },
    options: {
      responsive: false,
      animation: false,
      devicePixelRatio: 1,
      layout: { padding: { top: 10, right: 19.5, left: 0, bottom: 0 } },
      plugins: { legend: { display: false }, tooltip: { enabled: false } },
      elements: { line: { tension: 0 } },
      scales: {
        x: {
          type: 'linear', min: 0, max: 100,
          afterBuildTicks: s => { s.ticks = xTicks.map(v => ({ value: v })); },
          afterFit: s => { s.height = 44; },
          grid: { color: gridColor, drawTicks: false },
          border: { display: false },
          ticks: { padding: 8, maxRotation: 0, font: { size: 12 }, color: textColor },
          title: { display: true, text: 'Epoch', font: { size: 14 }, color: textColor, padding: { top: 0, bottom: 3 } }
        },
        y: {
          type: 'linear', min: -0.05, max: 1.05,
          afterBuildTicks: s => { s.ticks = yTicks.map(v => ({ value: v })); },
          afterFit: s => { s.width = 49; },
          grid: { color: gridColor, drawTicks: false, lineWidth: c => (c.tick && c.tick.value === 0 ? 2 : 1) },
          border: { display: false },
          ticks: { padding: 6, font: { size: 12 }, color: textColor, callback: v => String(Math.round(v * 10) / 10) },
          title: { display: true, text: 'Accuracy', font: { size: 14 }, color: textColor, padding: { top: 10, bottom: 0 } }
        }
      }
    },
    plugins: [insideLegend]
  });
});
</script>
</body>
</html>
